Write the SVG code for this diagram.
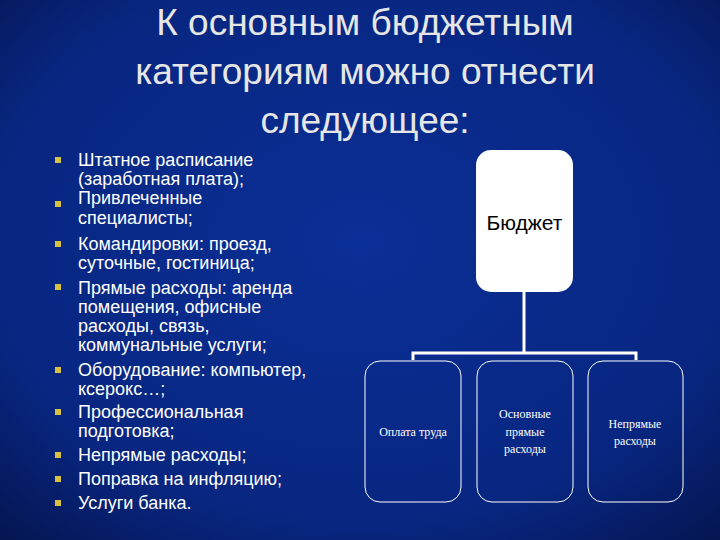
<svg xmlns="http://www.w3.org/2000/svg" width="720" height="540" viewBox="0 0 720 540">
<defs>
<radialGradient id="bg" cx="0.5" cy="0.45" r="0.75">
<stop offset="0" stop-color="#0a2f96"/><stop offset="0.7" stop-color="#082680"/><stop offset="1" stop-color="#04154f"/>
</radialGradient>
</defs>
<style>
.t{font-family:"Liberation Sans",Arial,sans-serif;font-size:37px;fill:#e6e6e6;text-anchor:middle}
.b{font-family:"Liberation Sans",Arial,sans-serif;font-size:18px;fill:#ffffff}
.bl{fill:#d8c040}
.box{fill:none;stroke:#ffffff;stroke-width:1}
.lbl{font-family:"Liberation Serif","Times New Roman",serif;font-size:12px;fill:#ffffff;text-anchor:middle}
.con{fill:none;stroke:#ffffff;stroke-width:3}
</style>
<rect width="720" height="540" fill="url(#bg)"/>
<text class="t" x="365" y="35">К основным бюджетным</text>
<text class="t" x="365" y="84">категориям можно отнести</text>
<text class="t" x="365" y="133">следующее:</text>
<g id="bullets">
<rect class="bl" x="55" y="157" width="6" height="6"/>
<rect class="bl" x="55" y="201" width="6" height="6"/>
<rect class="bl" x="55" y="241" width="6" height="6"/>
<rect class="bl" x="55" y="284" width="6" height="6"/>
<rect class="bl" x="55" y="367" width="6" height="6"/>
<rect class="bl" x="55" y="409" width="6" height="6"/>
<rect class="bl" x="55" y="452" width="6" height="6"/>
<rect class="bl" x="55" y="476" width="6" height="6"/>
<rect class="bl" x="55" y="500" width="6" height="6"/>
<text class="b" x="78" y="166">Штатное расписание</text>
<text class="b" x="78" y="185">(заработная плата);</text>
<text class="b" x="78" y="204">Привлеченные</text>
<text class="b" x="78" y="224">специалисты;</text>
<text class="b" x="78" y="250">Командировки: проезд,</text>
<text class="b" x="78" y="269">суточные, гостиница;</text>
<text class="b" x="78" y="294">Прямые расходы: аренда</text>
<text class="b" x="78" y="313">помещения, офисные</text>
<text class="b" x="78" y="332">расходы, связь,</text>
<text class="b" x="78" y="351">коммунальные услуги;</text>
<text class="b" x="78" y="376">Оборудование: компьютер,</text>
<text class="b" x="78" y="395">ксерокс…;</text>
<text class="b" x="78" y="418">Профессиональная</text>
<text class="b" x="78" y="437">подготовка;</text>
<text class="b" x="78" y="461">Непрямые расходы;</text>
<text class="b" x="78" y="485">Поправка на инфляцию;</text>
<text class="b" x="78" y="509">Услуги банка.</text>
</g>
<g id="connectors">
<path class="con" d="M524 292 V353 M413 360 V353 H636 V360"/>
</g>
<g id="budget">
<rect x="476" y="150" width="97" height="142" rx="15" fill="#ffffff"/>
<text x="524.5" y="230" font-family="Liberation Sans,Arial,sans-serif" font-size="21" fill="#000" text-anchor="middle">Бюджет</text>
</g>
<g id="n1">
<rect class="box" x="365" y="361" width="96" height="141" rx="15"/>
<text class="lbl" x="413" y="436">Оплата труда</text>
</g>
<g id="n2">
<rect class="box" x="477" y="361" width="96" height="141" rx="15"/>
<text class="lbl" x="525" y="418">Основные</text>
<text class="lbl" x="525" y="436">прямые</text>
<text class="lbl" x="525" y="453">расходы</text>
</g>
<g id="n3">
<rect class="box" x="588" y="361" width="95" height="141" rx="15"/>
<text class="lbl" x="635" y="428">Непрямые</text>
<text class="lbl" x="635" y="445">расходы</text>
</g>
</svg>
